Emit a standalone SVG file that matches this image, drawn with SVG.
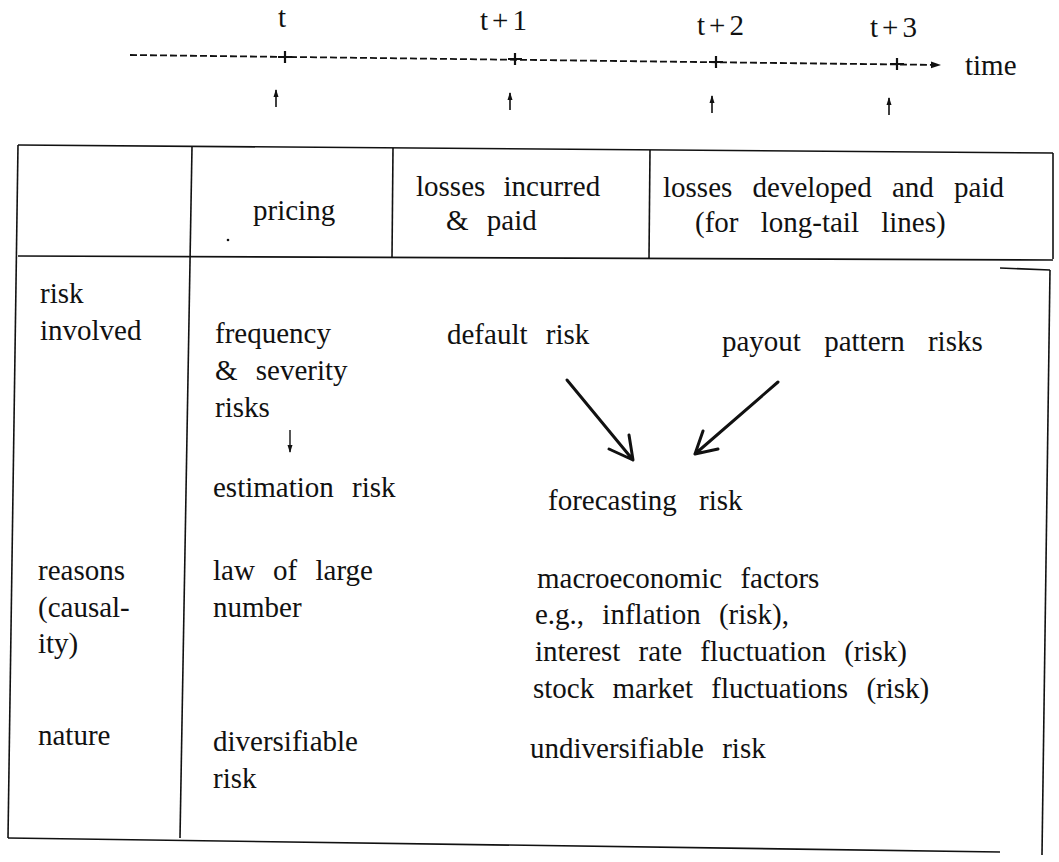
<svg xmlns="http://www.w3.org/2000/svg" width="1059" height="862" viewBox="0 0 1059 862" font-family="Liberation Serif, DejaVu Serif, serif">
<style>
  text { font-family: "Liberation Serif", "DejaVu Serif", serif; font-size: 29px; fill: #111; word-spacing: 11px; }
  .ln { stroke: #111; stroke-width: 1.6; fill: none; }
  .dash { stroke: #111; stroke-width: 1.8; stroke-dasharray: 7 3; fill: none; }
  .arr { stroke: #111; stroke-width: 3; fill: none; stroke-linecap: round; stroke-linejoin: round; }
  .tick { stroke: #111; stroke-width: 2.2; fill: none; }
  .tl { letter-spacing: 4px; }
</style>
<defs>
  <marker id="head" markerWidth="10" markerHeight="10" refX="9" refY="5" orient="auto" markerUnits="userSpaceOnUse">
    <path d="M0,1.5 L10,5 L0,8.5 Z" fill="#111"/>
  </marker>
  <marker id="small" markerWidth="8" markerHeight="8" refX="7" refY="4" orient="auto" markerUnits="userSpaceOnUse">
    <path d="M0,1.5 L8,4 L0,6.5 Z" fill="#111"/>
  </marker>
</defs>

<g id="timeline">
  <path class="dash" d="M130,55 L940,65" marker-end="url(#head)"/>
  <path class="tick" d="M278,57 L292,57 M285,51 L285,63"/>
  <path class="tick" d="M508,59 L522,59 M515,53 L515,65"/>
  <path class="tick" d="M709,62 L723,62 M716,56 L716,68"/>
  <path class="tick" d="M890,64 L904,64 M897,58 L897,70"/>
  <text x="278" y="27">t</text>
  <text x="480" y="30" class="tl">t+1</text>
  <text x="697" y="35" class="tl">t+2</text>
  <text x="870" y="37" class="tl">t+3</text>
  <text x="965" y="75">time</text>
  <path class="ln" d="M276,107 L276,90" marker-end="url(#small)"/>
  <path class="ln" d="M510,110 L510,93" marker-end="url(#small)"/>
  <path class="ln" d="M712,113 L712,96" marker-end="url(#small)"/>
  <path class="ln" d="M889,115 L889,98" marker-end="url(#small)"/>
</g>

<g id="table-grid">
  <path class="ln" d="M18,145 L1053,153"/>
  <path class="ln" d="M18,145 L8,838"/>
  <path class="ln" d="M8,838 L1000,852"/>
  <path class="ln" d="M1053,153 L1053,259"/>
  <path class="ln" d="M18,256 L1053,260"/>
  <path class="ln" d="M1000,268 L1050,270"/>
  <path class="ln" d="M1050,270 L1042,855"/>
  <path class="ln" d="M192,147 L180,838"/>
  <path class="ln" d="M393,148 L392,258"/>
  <path class="ln" d="M650,150 L649,259"/>
  <circle cx="228" cy="240" r="1.3" fill="#111"/>
</g>

<g id="header-pricing"><text x="253" y="220">pricing</text></g>
<g id="header-incurred">
  <text x="416" y="196">losses incurred</text>
  <text x="446" y="230">&amp; paid</text>
</g>
<g id="header-developed">
  <text x="663" y="197" style="word-spacing:13px">losses developed and paid</text>
  <text x="695" y="232" style="word-spacing:15px">(for long-tail lines)</text>
</g>

<g id="row-risk-label">
  <text x="40" y="303">risk</text>
  <text x="40" y="340">involved</text>
</g>
<g id="freq-severity">
  <text x="215" y="343">frequency</text>
  <text x="215" y="380">&amp; severity</text>
  <text x="215" y="417">risks</text>
</g>
<g id="estimation-risk"><text x="213" y="497">estimation risk</text></g>
<g id="default-risk"><text x="447" y="344">default risk</text></g>
<g id="payout-risk"><text x="722" y="351" style="word-spacing:16px">payout pattern risks</text></g>
<g id="forecasting-risk"><text x="548" y="510" style="word-spacing:15px">forecasting risk</text></g>

<g id="connectors">
  <path class="ln" d="M290,430 L290,452" marker-end="url(#small)" style="stroke-width:1.4"/>
  <path class="arr" d="M567,380 L633,460 M609,449 L633,460 L629,435"/>
  <path class="arr" d="M778,382 L695,454 M703,431 L695,454 L718,449"/>
</g>

<g id="row-reasons-label">
  <text x="38" y="580">reasons</text>
  <text x="38" y="617">(causal-</text>
  <text x="38" y="653">ity)</text>
</g>
<g id="law-large-number">
  <text x="213" y="580">law of large</text>
  <text x="213" y="617">number</text>
</g>
<g id="macro-factors">
  <text x="537" y="588">macroeconomic factors</text>
  <text x="535" y="624">e.g., inflation (risk),</text>
  <text x="535" y="661">interest rate fluctuation (risk)</text>
  <text x="533" y="698">stock market fluctuations (risk)</text>
</g>

<g id="row-nature-label"><text x="38" y="745">nature</text></g>
<g id="diversifiable">
  <text x="213" y="751">diversifiable</text>
  <text x="213" y="788">risk</text>
</g>
<g id="undiversifiable"><text x="530" y="758">undiversifiable risk</text></g>
</svg>
